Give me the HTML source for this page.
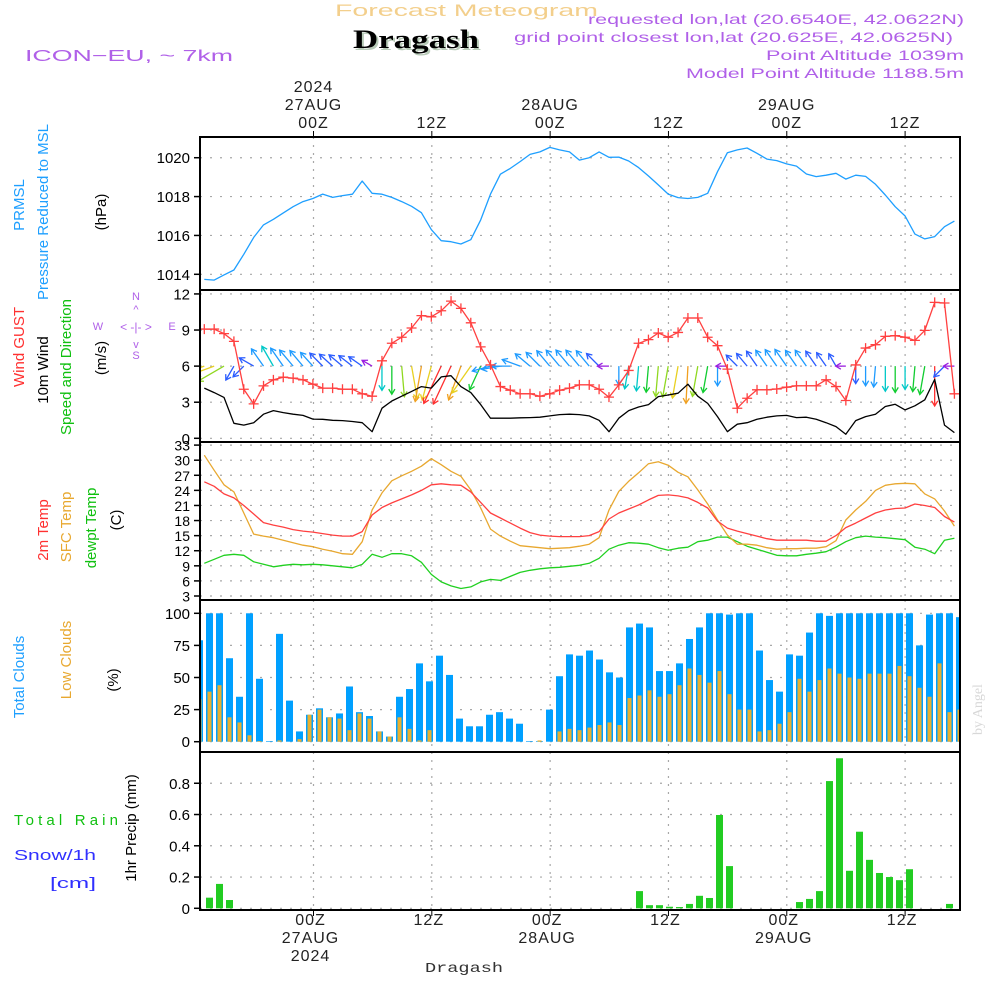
<!DOCTYPE html>
<html><head><meta charset="utf-8"><style>
html,body{margin:0;padding:0;background:#fff;}
svg{display:block;font-family:"Liberation Sans",sans-serif;}
</style></head><body>
<svg id="chart" width="1000" height="1000" viewBox="0 0 1000 1000" xmlns="http://www.w3.org/2000/svg">
<rect width="1000" height="1000" fill="#fff"/>
<text x="335" y="16" font-size="17" textLength="263" lengthAdjust="spacingAndGlyphs" fill="#f3cf8c">Forecast Meteogram</text>
<text x="355" y="50" font-size="26" font-weight="bold" font-family="Liberation Serif,serif" fill="#b8cbb8" textLength="126" lengthAdjust="spacingAndGlyphs">Dragash</text>
<text x="353" y="48" font-size="26" font-weight="bold" font-family="Liberation Serif,serif" fill="#000" textLength="126" lengthAdjust="spacingAndGlyphs">Dragash</text>
<text x="25" y="61" font-size="16" textLength="208" lengthAdjust="spacingAndGlyphs" fill="#b060e8">ICON−EU, ~ 7km</text>
<g font-size="14" fill="#b060e8">
<text x="588" y="24" textLength="376" lengthAdjust="spacingAndGlyphs">requested lon,lat (20.6540E, 42.0622N)</text>
<text x="514" y="42" textLength="439" lengthAdjust="spacingAndGlyphs">grid point closest lon,lat (20.625E, 42.0625N)</text>
<text x="766" y="60" textLength="198" lengthAdjust="spacingAndGlyphs">Point Altitude 1039m</text>
<text x="686" y="78" textLength="278" lengthAdjust="spacingAndGlyphs">Model Point Altitude 1188.5m</text>
</g>
<text transform="translate(982,735) rotate(-90)" font-size="14" font-family="Liberation Serif,serif" fill="#d8d8d8">by Angel</text>
<text x="425" y="972" font-size="14" textLength="78" lengthAdjust="spacingAndGlyphs" font-family="Liberation Mono,monospace" fill="#333">Dragash</text>
<g id="labels" font-size="15">
<text transform="translate(24,205) rotate(-90)" text-anchor="middle" fill="#1e9fff">PRMSL</text>
<text transform="translate(48,212) rotate(-90)" text-anchor="middle" fill="#1e9fff">Pressure Reduced to MSL</text>
<text transform="translate(106,212) rotate(-90)" text-anchor="middle" fill="#000">(hPa)</text>
<text transform="translate(24,347) rotate(-90)" text-anchor="middle" fill="#ff3030">Wind GUST</text>
<text transform="translate(48,370) rotate(-90)" text-anchor="middle" fill="#000">10m Wind</text>
<text transform="translate(71,367) rotate(-90)" text-anchor="middle" fill="#10c010">Speed and Direction</text>
<text transform="translate(106,358) rotate(-90)" text-anchor="middle" fill="#000">(m/s)</text>
<g fill="#b060e8" font-size="11">
<text x="136" y="300" text-anchor="middle">N</text><text x="136" y="359" text-anchor="middle">S</text>
<text x="98" y="330" text-anchor="middle">W</text><text x="172" y="330" text-anchor="middle">E</text>
<text x="136" y="331" text-anchor="middle" font-size="12">&lt; -|- &gt;</text>
<text x="136" y="313" text-anchor="middle">^</text><text x="136" y="348" text-anchor="middle">v</text>
</g>
<text transform="translate(48,530) rotate(-90)" text-anchor="middle" fill="#ff3030">2m Temp</text>
<text transform="translate(71,527) rotate(-90)" text-anchor="middle" fill="#e8a830">SFC Temp</text>
<text transform="translate(96,528) rotate(-90)" text-anchor="middle" fill="#10c010">dewpt Temp</text>
<text transform="translate(121,520) rotate(-90)" text-anchor="middle" fill="#000">(C)</text>
<text transform="translate(24,677) rotate(-90)" text-anchor="middle" fill="#1e9fff">Total Clouds</text>
<text transform="translate(71,660) rotate(-90)" text-anchor="middle" fill="#e8a830">Low Clouds</text>
<text transform="translate(118,680) rotate(-90)" text-anchor="middle" fill="#000">(%)</text>
<text x="14" y="825" fill="#10c010" textLength="104" lengthAdjust="spacing">Total  Rain</text>
<text x="14" y="860" fill="#3030ff" textLength="82" lengthAdjust="spacingAndGlyphs">Snow/1h</text>
<text x="50" y="888" fill="#3030ff" textLength="46" lengthAdjust="spacingAndGlyphs">[cm]</text>
<text transform="translate(136,828) rotate(-90)" text-anchor="middle" fill="#000">1hr Precip (mm)</text>
</g>
<g id="grid"></g>
<g id="marks"></g>
<g id="frames"></g>
<g id="axes" font-size="15"></g>
</svg>
<script>
const pressure=[1013.74,1013.7,1013.97,1014.22,1015.03,1015.9,1016.54,1016.83,1017.16,1017.48,1017.74,1017.9,1018.13,1017.96,1018.05,1018.12,1018.8,1018.17,1018.12,1017.96,1017.74,1017.5,1017.17,1016.3,1015.73,1015.68,1015.56,1015.78,1016.8,1018.13,1019.15,1019.45,1019.8,1020.17,1020.3,1020.53,1020.4,1020.3,1019.88,1020.0,1020.3,1020.02,1020.03,1019.83,1019.49,1019.06,1018.6,1018.13,1017.95,1017.9,1017.96,1018.17,1019.28,1020.26,1020.4,1020.5,1020.23,1019.93,1019.85,1019.68,1019.57,1019.16,1019.03,1019.1,1019.2,1018.9,1019.1,1019.04,1018.63,1018.08,1017.48,1017.0,1016.07,1015.82,1015.94,1016.45,1016.74];
const gust=[9.08,9.08,8.7,8.06,4.08,2.86,4.36,4.86,5.08,5.0,4.86,4.5,4.17,4.17,4.08,4.08,3.7,3.5,6.44,7.9,8.4,9.17,10.2,10.1,10.6,11.4,10.8,9.6,7.6,6.1,4.3,4.0,3.7,3.7,3.5,3.7,4.0,4.17,4.44,4.44,4.08,3.42,4.44,5.64,7.9,8.2,8.75,8.4,8.8,10.0,10.0,8.4,7.7,5.75,2.5,3.33,4.03,4.03,4.1,4.25,4.36,4.36,4.36,4.86,4.3,3.14,6.1,7.5,7.78,8.47,8.53,8.4,8.14,8.97,11.3,11.25,3.7];
const wind=[4.17,3.8,3.4,1.25,1.1,1.3,2.0,2.3,2.14,2.0,1.9,1.6,1.58,1.5,1.47,1.4,1.3,0.55,2.5,3.1,3.5,3.9,4.3,4.17,5.1,5.2,4.3,3.8,2.8,1.67,1.67,1.67,1.7,1.72,1.75,1.86,1.97,2.0,1.97,1.86,1.5,0.55,1.67,2.3,2.6,2.8,3.47,3.6,3.75,4.5,3.5,2.9,1.8,0.55,1.17,1.3,1.58,1.75,1.86,1.9,1.72,1.75,1.58,1.3,0.97,0.33,1.47,1.8,2.0,2.64,2.83,2.36,2.7,3.2,4.9,1.1,0.47];
const windDir=[70,70,60,30,45,120,145,150,145,140,140,138,135,132,130,128,125,120,0,0,355,350,10,15,25,25,20,35,25,75,80,90,110,130,135,140,140,140,140,140,135,90,0,10,5,5,5,10,10,3,10,10,0,90,135,140,145,145,145,145,145,145,145,145,150,90,0,0,5,0,0,0,5,10,0,45,90];
const t2m=[25.7,24.8,23.3,22.5,21,19.3,17.6,17.1,16.7,16.2,15.9,15.7,15.4,15.1,14.9,14.9,15.8,19.1,20.6,21.5,22.3,23.1,24,25.1,25.3,25.1,25,23.7,21.6,19.5,18.5,17.5,16.5,15.6,15.1,14.9,14.8,14.8,14.8,15.0,15.8,18.3,19.5,20.3,21.1,22.1,23,23.1,22.9,22.5,21.6,20.5,17.9,16.5,15.9,15.4,14.9,14.4,14.1,14.1,14.1,14.1,13.9,13.9,15,16.6,17.5,18.5,19.5,20.1,20.4,20.5,21.3,21,20.6,18.8,17.7];
const sfcT=[31,28,25.1,23.7,19.5,15.3,14.9,14.6,14.1,13.6,13.1,12.8,12.3,11.9,11.4,11.3,13.8,20.1,23.5,25.9,26.9,27.8,28.8,30.3,29.1,27.8,26.8,24.1,20.5,16.3,14.9,13.9,13,12.8,12.6,12.4,12.5,12.6,12.9,13.3,14.6,20.1,23.8,25.8,27.5,29.3,29.7,29,27.6,26.7,24.1,21.3,18.1,15.1,13.3,13.3,13.1,12.6,12.3,12.4,12.4,12.5,12.5,12.8,14,18.1,20.1,21.8,24,25,25.3,25.4,25.3,23.3,22.3,19.9,16.9];
const dewT=[9.5,10.3,11.1,11.3,11.1,9.8,9.3,8.8,9.1,9.3,9.2,9.3,9.2,9,8.8,8.6,9.3,11.3,10.7,11.4,11.4,11,9.7,7.3,5.8,5,4.5,4.8,5.8,6.3,6.1,6.9,7.7,8.1,8.4,8.6,8.7,8.9,9.1,9.5,10.5,12.3,13.1,13.6,13.5,13.3,12.6,12.1,12.5,12.7,13.8,14.1,14.7,14.7,13.8,12.9,12.3,11.7,11.1,11,11,11.3,11.5,11.8,12.7,13.8,14.6,14.9,14.7,14.6,14.4,14.2,12.7,12.3,11.4,14.1,14.5];
const totalCloud=[79,100,100,65,35,100,49,0.5,84,32,8,21,26,19,22,43,23,20,8,4,35,41,61,47,67,52,18,12,12,21,23,18,14,0.5,0.5,25,51,68,67,71,64,54,50,89,92,89,55,55,61,80,89,100,100,99,100,100,71,48,39,68,67,85,100,98,100,100,100,100,100,100,100,100,75,99,100,100,97];
const lowCloud=[33,39,44,19,15,5,0.5,0,1,0,2,21,25,19,18,9,22,18,8,4,19,10,1,9,0,0,0,0,0,0,0,0,0,0,1,0,8,10,9,11,13,15,13,34,36,40,35,37,44,57,52,46,55,37,25,25,8,9,14,23,49,39,48,57,53,50,49,53,53,53,59,51,42,35,61,23,25];
const precip=[0,0.068,0.156,0.053,0,0,0,0,0,0,0,0,0,0,0,0,0,0,0,0,0,0,0,0,0,0,0,0,0,0,0,0,0,0,0,0,0,0,0,0,0,0,0,0,0.11,0.02,0.02,0.01,0.008,0.028,0.08,0.066,0.597,0.27,0,0,0,0,0,0,0.04,0.06,0.11,0.814,0.96,0.24,0.49,0.31,0.226,0.2,0.18,0.25,0,0,0,0.028,0];
const presTicks=[1014,1016,1018,1020];
const windTicks=[0,3,6,9,12];
const tempTicks=[3,6,9,12,15,18,21,24,27,30,33];
const cloudTicks=[0,25,50,75,100];
const precipTicks=[0,0.2,0.4,0.6,0.8];
const timeHours=[0,12,24,36,48,60];
const timeTop=[["2024","27AUG","00Z"],["","","12Z"],["","28AUG","00Z"],["","","12Z"],["","29AUG","00Z"],["","","12Z"]];
const timeBottom=[["00Z","27AUG","2024"],["12Z","",""],["00Z","28AUG",""],["12Z","",""],["00Z","29AUG",""],["12Z","",""]];

const NS="http://www.w3.org/2000/svg";
const L=200,R=960;
const panels=[{t:137,b:290},{t:290,b:442},{t:442,b:600},{t:600,b:752},{t:752,b:910}];
const xP=i=>204.3+9.87*i;
const xB=i=>199.5+10*i;
const xT=h=>313.5+9.86*h;
const yP=v=>274.3-(v-1014)*19.43;
const yW=v=>438.3-12.03*v;
const yT=v=>596-(v-3)*5.03;
const yC=v=>741.7-1.284*v;
const yR=v=>908.3-156.3*v;
function mk(tag,attrs,parent){const e=document.createElementNS(NS,tag);for(const k in attrs)e.setAttribute(k,attrs[k]);parent.appendChild(e);return e;}
const grid=document.getElementById('grid'),marks=document.getElementById('marks'),frames=document.getElementById('frames'),axes=document.getElementById('axes');

timeHours.forEach((h,k)=>{
  const x=xT(h);
  panels.forEach(p=>{const g=mk('line',{x1:x,x2:x,y1:p.t,y2:p.b,stroke:'#a8a8a8','stroke-width':1.2,'stroke-dasharray':'2,6'},grid);
    
    });
  const tt=mk('line',{x1:x,x2:x,y1:131,y2:137,stroke:'#000'},axes);
  
  
  const tb=mk('line',{x1:x,x2:x,y1:910,y2:916,stroke:'#000'},axes);
  
  
  timeTop[k].forEach((s,j)=>{if(!s)return;const t=mk('text',{x:x,y:92+j*18,'text-anchor':'middle','font-size':16,fill:'#222','letter-spacing':1},axes);t.textContent=s;
    
    });
  timeBottom[k].forEach((s,j)=>{if(!s)return;const t=mk('text',{x:x-3,y:925+j*18,'text-anchor':'middle','font-size':16,fill:'#222','letter-spacing':1},axes);t.textContent=s;
    
    });
});
function yticks(ticks,fy,name){ticks.forEach(v=>{const y=fy(v);
  const g=mk('line',{x1:L,x2:R,y1:y,y2:y,stroke:'#a8a8a8','stroke-width':1.2,'stroke-dasharray':'2,8'},grid);
  
  
  const t=mk('line',{x1:L-6,x2:L,y1:y,y2:y,stroke:'#000','stroke-width':1.5},axes);
  
  
  const tx=mk('text',{x:L-10,y:y+5.5,'text-anchor':'end',fill:'#000','font-size':(name==='temp'?14:15)},axes);tx.textContent=String(v);
  
  });}
yticks(presTicks,yP,'pressure');yticks(windTicks,yW,'wind');yticks(tempTicks,yT,'temp');yticks(cloudTicks,yC,'cloud');yticks(precipTicks,yR,'precip');

panels.forEach((p,k)=>{const r=mk('rect',{x:L,y:p.t,width:R-L,height:p.b-p.t,fill:'none',stroke:'#000','stroke-width':2},frames);
  
  });

function line(arr,fy,color,name,w){const pts=arr.map((v,i)=>xP(i).toFixed(1)+','+fy(v).toFixed(1)).join(' ');
  const e=mk('polyline',{points:pts,fill:'none',stroke:color,'stroke-width':w||1.3,'stroke-linejoin':'round'},marks);
  
  return e;}
const defs=mk('defs',{},document.getElementById('chart'));
const cp=mk('clipPath',{id:'plotclip'},defs);mk('rect',{x:L,y:137,width:R-L,height:773},cp);
marks.setAttribute('clip-path','url(#plotclip)');

line(pressure,yP,'#1e9fff','pressure-line');
function spdColor(s){if(s<0.9)return'#9a1ee0';if(s<1.6)return'#2a5cff';if(s<2.2)return'#1e9bff';if(s<2.7)return'#00c8c8';if(s<3.3)return'#10cc30';if(s<3.7)return'#90d820';if(s<4.2)return'#e8d020';if(s<4.9)return'#f0a020';return'#ff3030';}
windDir.forEach((d,i)=>{const s=wind[i];const len=8+6.5*s;const b=(d+180)*Math.PI/180;
  const x0=xP(i),y0=yW(6);const x1=x0+len*Math.sin(b),y1=y0-len*Math.cos(b);
  const c=spdColor(s);const g=mk('g',{stroke:c,'stroke-width':1.3,fill:'none'},marks);
  
  
  mk('line',{x1:x0,y1:y0,x2:x1,y2:y1},g);
  const a=Math.atan2(y1-y0,x1-x0);const h=6;
  mk('polyline',{points:`${x1+h*Math.cos(a+2.6)},${y1+h*Math.sin(a+2.6)} ${x1},${y1} ${x1+h*Math.cos(a-2.6)},${y1+h*Math.sin(a-2.6)}`},g);});
line(wind,yW,'#000','wind-speed-line');
line(gust,yW,'#ff4040','wind-gust-line');
gust.forEach((v,i)=>{const x=xP(i),y=yW(v);const g=mk('path',{d:`M${x-5},${y}H${x+5}M${x},${y-5}V${y+5}`,stroke:'#ff4040','stroke-width':1.3},marks);
  
  });
line(dewT,yT,'#20d020','dewpoint-line');
line(sfcT,yT,'#e8a830','sfc-temp-line');
line(t2m,yT,'#ff4040','t2m-line');
totalCloud.forEach((v,i)=>{const x=xB(i);const b=mk('rect',{x:x-3.5,y:yC(v),width:7,height:yC(0)-yC(v),fill:'#00a0ff'},marks);
  
  });
lowCloud.forEach((v,i)=>{const x=xB(i);const b=mk('rect',{x:x-2,y:yC(v),width:4,height:yC(0)-yC(v),fill:'#e8b030'},marks);
  
  });
precip.forEach((v,i)=>{if(v<=0)return;const x=xB(i);const b=mk('rect',{x:x-3.5,y:yR(v),width:7,height:yR(0)-yR(v),fill:'#22cc22'},marks);
  
  });
</script>
</body></html>
